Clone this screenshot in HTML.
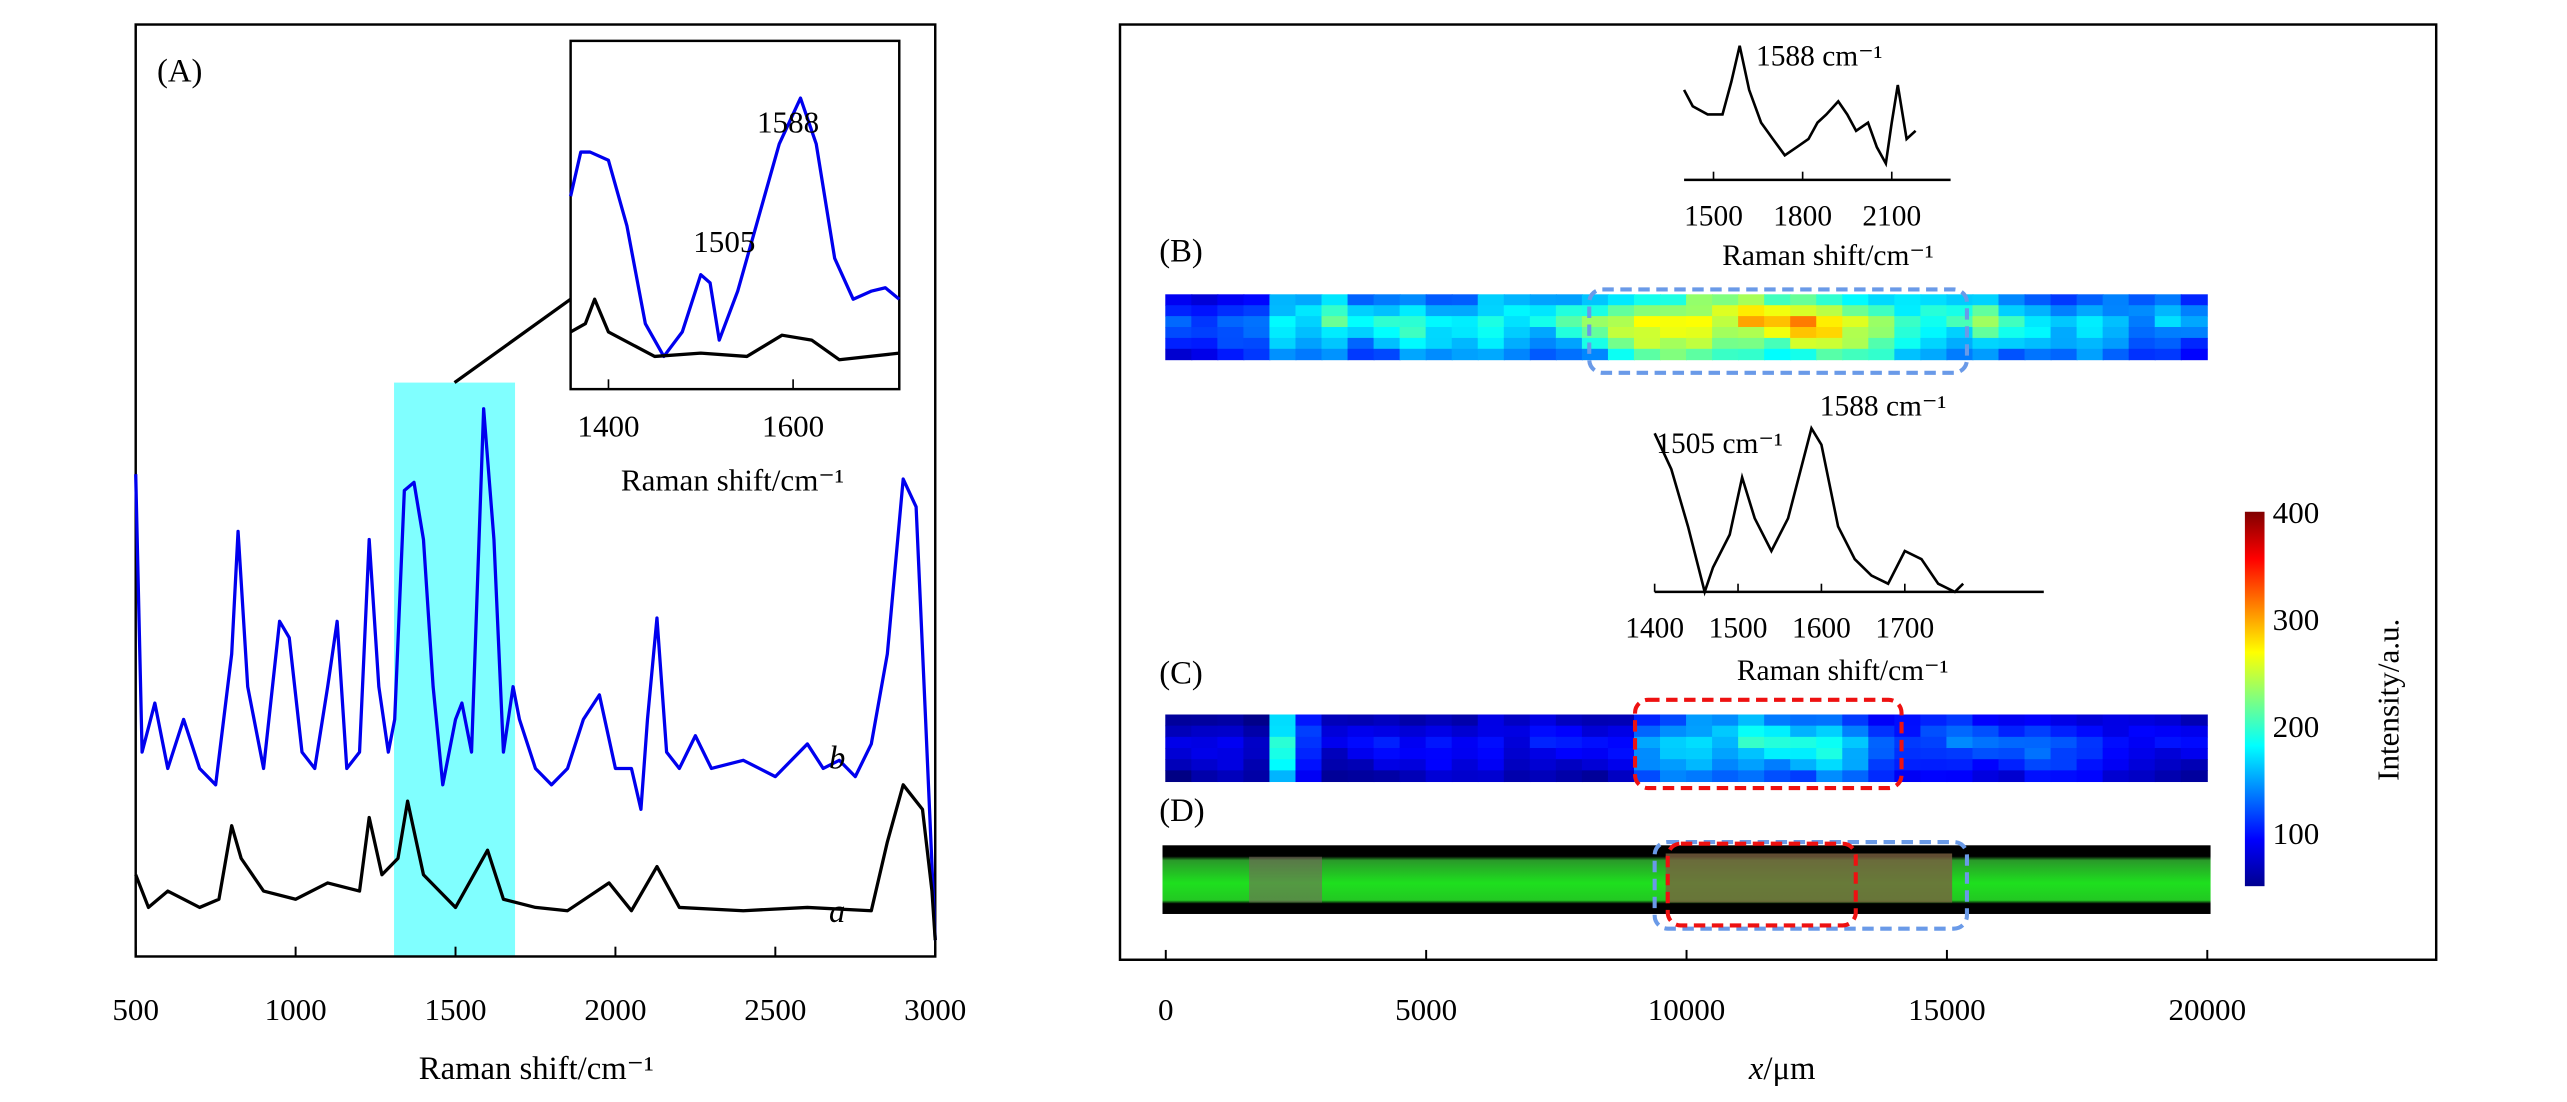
<!DOCTYPE html>
<html><head><meta charset="utf-8"><style>
html,body{margin:0;padding:0;background:#fff;}
svg{display:block;font-family:"Liberation Serif",serif;}
</style></head><body>
<svg id="fig" width="2567" height="1102" viewBox="0 0 1570 674" preserveAspectRatio="none" xmlns="http://www.w3.org/2000/svg">
<defs>
<linearGradient id="jet" x1="0" y1="1" x2="0" y2="0">
<stop offset="0" stop-color="#00008f"/><stop offset="0.125" stop-color="#0000ff"/><stop offset="0.375" stop-color="#00ffff"/><stop offset="0.625" stop-color="#ffff00"/><stop offset="0.875" stop-color="#ff0000"/><stop offset="1" stop-color="#800000"/>
</linearGradient>
<linearGradient id="dgreen" x1="0" y1="0" x2="0" y2="1">
<stop offset="0" stop-color="#000"/><stop offset="0.16" stop-color="#000"/><stop offset="0.22" stop-color="#2a9a2a"/><stop offset="0.55" stop-color="#1ee01e"/><stop offset="0.8" stop-color="#22c822"/><stop offset="0.85" stop-color="#000"/><stop offset="1" stop-color="#000"/>
</linearGradient>
</defs>
<g id="left"></g>
<g id="right"></g>
</svg>
<script>
// ---------- DATA ----------
const wnB = [500,520,560,600,650,700,750,800,820,850,900,950,980,1020,1060,1100,1130,1160,1200,1230,1260,1290,1310,1340,1370,1400,1430,1460,1500,1520,1550,1588,1620,1650,1680,1700,1750,1800,1850,1900,1950,2000,2050,2080,2100,2130,2160,2200,2250,2300,2400,2500,2600,2650,2700,2750,2800,2850,2900,2940,2970,3000];
const intB = [295,125,155,115,145,115,105,185,260,165,115,205,195,125,115,165,205,115,125,255,165,125,145,285,290,255,165,105,145,155,125,335,255,125,165,145,115,105,115,145,160,115,115,90,145,207,125,115,135,115,120,110,130,115,120,110,130,185,292,275,145,10];
const wnA = [500,540,600,700,760,800,830,900,1000,1100,1200,1230,1270,1320,1350,1400,1450,1500,1600,1650,1750,1850,1980,2050,2130,2200,2400,2600,2800,2850,2900,2960,2990,3000];
const intA = [50,30,40,30,35,80,60,40,35,45,40,85,50,60,95,50,40,30,65,35,30,28,45,28,55,30,28,30,28,70,105,90,40,10];
const wnIn = [1359,1370,1380,1400,1420,1440,1460,1480,1500,1510,1520,1540,1560,1585,1608,1625,1645,1665,1685,1700,1715];
const inBlue = [118,145,145,140,100,40,20,35,70,65,30,60,100,150,178,150,80,55,60,62,55];
const wnInK = [1359,1375,1385,1400,1450,1500,1550,1588,1620,1650,1715];
const inBlack = [35,40,55,35,20,22,20,33,30,18,22];
const wnBs = [1401,1430,1480,1530,1560,1588,1620,1660,1700,1740,1780,1820,1850,1880,1920,1950,1980,2020,2050,2080,2100,2120,2150,2180];
const intBs = [55,45,40,40,60,82,55,35,25,15,20,25,35,40,48,40,30,35,20,10,35,58,25,30];
const wnCs = [1400,1420,1440,1460,1470,1490,1505,1520,1540,1560,1588,1600,1620,1640,1660,1680,1700,1720,1740,1760,1770];
const intCs = [97,75,40,0,15,35,70,45,25,45,100,90,40,20,10,5,25,20,5,0,5];
const profB = [105,100,115,125,175,165,185,150,160,175,160,165,185,170,160,175,190,215,240,250,260,245,255,240,255,245,230,220,195,185,175,195,165,155,145,165,155,135,145,125];
const profC = [70,75,80,70,190,110,75,80,85,80,90,85,95,80,90,85,80,85,135,155,165,155,170,160,155,165,145,120,110,115,120,110,105,115,110,105,95,90,85,80];
const rowMod = [0.85,1.0,1.12,1.05,0.95,0.82];
const colJit = [1,0.9,1.1,0.95,1.05,1,0.92,1.08];
const ticksL = [500,1000,1500,2000,2500,3000];
const ticksR = [0,5000,10000,15000,20000];
const cbTicks = [100,200,300,400];
</script>
<script>
const NS="http://www.w3.org/2000/svg";
function mk(parent,tag,attrs,text){const e=document.createElementNS(NS,tag);for(const k in attrs)e.setAttribute(k,attrs[k]);if(text!==undefined)e.textContent=text;parent.appendChild(e);return e;}
const L=document.getElementById('left'), R=document.getElementById('right');
function poly(xs,ys,sx,sy){return xs.map((x,i)=>sx(x).toFixed(1)+','+sy(ys[i]).toFixed(1)).join(' ');}
function jet(v){let t=(v-50)/350;t=Math.max(0,Math.min(1,t));
 const r=Math.max(0,Math.min(1,1.5-Math.abs(4*t-3))),g=Math.max(0,Math.min(1,1.5-Math.abs(4*t-2))),b=Math.max(0,Math.min(1,1.5-Math.abs(4*t-1)));
 return `rgb(${Math.round(r*255)},${Math.round(g*255)},${Math.round(b*255)})`;}

// ---------- LEFT PANEL ----------
const xL=v=>83+(v-500)/2500*489, yL=v=>585-v;
let e;
e=mk(L,'rect',{x:241,y:234,width:74,height:351,fill:'#80ffff'});

e=mk(L,'rect',{x:83,y:15,width:489,height:570,fill:'none',stroke:'#000','stroke-width':1.5});

e=mk(L,'polyline',{points:poly(wnB,intB,xL,yL),fill:'none',stroke:'#0000ee','stroke-width':2,'stroke-linejoin':'round'});

e=mk(L,'polyline',{points:poly(wnA,intA,xL,yL),fill:'none',stroke:'#000','stroke-width':2,'stroke-linejoin':'round'});

ticksL.forEach(t=>{
 e=mk(L,'line',{x1:xL(t),x2:xL(t),y1:585,y2:579,stroke:'#000','stroke-width':1.2});
 
 e=mk(L,'text',{x:xL(t),y:624,'font-size':19,'text-anchor':'middle'},t);
 
});
e=mk(L,'text',{x:328,y:660,'font-size':20,'text-anchor':'middle'},'Raman shift/cm\u207B\u00B9');

e=mk(L,'text',{x:96,y:50,'font-size':20},'(A)');

e=mk(L,'text',{x:507,y:470,'font-size':20,'font-style':'italic'},'b');

e=mk(L,'text',{x:507,y:564,'font-size':20,'font-style':'italic'},'a');

e=mk(L,'line',{x1:278,y1:234,x2:349,y2:183,stroke:'#000','stroke-width':2});

// inset
const xI=v=>349+(v-1359)/356*201, yI=v=>238-v;
e=mk(L,'rect',{x:349,y:25,width:201,height:213,fill:'#fff',stroke:'#000','stroke-width':1.5});

e=mk(L,'polyline',{points:poly(wnIn,inBlue,xI,yI),fill:'none',stroke:'#0000ee','stroke-width':2,'stroke-linejoin':'round'});

e=mk(L,'polyline',{points:poly(wnInK,inBlack,xI,yI),fill:'none',stroke:'#000','stroke-width':2,'stroke-linejoin':'round'});

[1400,1600].forEach(t=>{
 e=mk(L,'line',{x1:xI(t),x2:xI(t),y1:238,y2:232,stroke:'#000'});
 
 e=mk(L,'text',{x:xI(t),y:267,'font-size':19,'text-anchor':'middle'},t);
 
});
e=mk(L,'text',{x:448,y:300,'font-size':19,'text-anchor':'middle'},'Raman shift/cm\u207B\u00B9');

e=mk(L,'text',{x:482,y:81,'font-size':19,'text-anchor':'middle'},'1588');

e=mk(L,'text',{x:443,y:154,'font-size':19,'text-anchor':'middle'},'1505');


// ---------- RIGHT PANEL ----------
const xR=v=>713+v/20000*637;
e=mk(R,'rect',{x:685,y:15,width:805,height:572,fill:'none',stroke:'#000','stroke-width':1.5});

ticksR.forEach(t=>{
 e=mk(R,'line',{x1:xR(t),x2:xR(t),y1:587,y2:581,stroke:'#000','stroke-width':1.2});
 
 e=mk(R,'text',{x:xR(t),y:624,'font-size':19,'text-anchor':'middle'},t);
 
});
e=mk(R,'text',{x:1090,y:660,'font-size':20,'text-anchor':'middle'});

mk(e,'tspan',{'font-style':'italic'},'x');mk(e,'tspan',{},'/\u03BCm');
[['(B)',160,'panel-label-b'],['(C)',418,'panel-label-c'],['(D)',502,'panel-label-d']].forEach(p=>{
 e=mk(R,'text',{x:709,y:p[1],'font-size':20},p[0]);
 
});
function heat(prof,y0,h,name){
 const g=mk(R,'g',{});
 
 const cw=637/prof.length, rh=h/rowMod.length;
 prof.forEach((p,c)=>rowMod.forEach((m,r)=>{
  const v=p*m*colJit[(c*3+r*5)%colJit.length];
  const cell=mk(g,'rect',{x:(713+c*cw-0.3).toFixed(2),y:(y0+r*rh).toFixed(2),width:(cw+0.6).toFixed(2),height:(rh+0.3).toFixed(2),fill:jet(v)});
  
  
 }));
}
heat(profB,180,40,'heatmap-b');
heat(profC,437,41,'heatmap-c');
// D optical image
e=mk(R,'rect',{x:711,y:517,width:641,height:42,fill:'url(#dgreen)'});

e=mk(R,'rect',{x:xR(1600),y:524,width:xR(3000)-xR(1600),height:28,fill:'#806060',opacity:0.55});

e=mk(R,'rect',{x:xR(9600),y:522,width:xR(15100)-xR(9600),height:30,fill:'#7a6040',opacity:0.8});

// dashed boxes
[[972,177,231,51,'#6a9ae8','dashed-box-b'],[1000,428,163,54,'#ee1111','dashed-box-c'],[1012,515,191,53,'#6a9ae8','dashed-box-d-blue'],[1020,516,115,50,'#ee1111','dashed-box-d-red']].forEach(b=>{
 e=mk(R,'rect',{x:b[0],y:b[1],width:b[2],height:b[3],rx:8,fill:'none',stroke:b[4],'stroke-width':2.5,'stroke-dasharray':'7 4'});
 
});
// B spectrum
const xBs=v=>1048+(v-1500)*0.1817, yBs=v=>110-v;
e=mk(R,'line',{x1:1030,x2:1193,y1:110,y2:110,stroke:'#000','stroke-width':1.5});

e=mk(R,'polyline',{points:poly(wnBs,intBs,xBs,yBs),fill:'none',stroke:'#000','stroke-width':1.6});

[1500,1800,2100].forEach(t=>{
 e=mk(R,'line',{x1:xBs(t),x2:xBs(t),y1:110,y2:105,stroke:'#000'});
 
 e=mk(R,'text',{x:xBs(t),y:138,'font-size':18,'text-anchor':'middle'},t);
 
});
e=mk(R,'text',{x:1118,y:162,'font-size':18,'text-anchor':'middle'},'Raman shift/cm\u207B\u00B9');

e=mk(R,'text',{x:1074,y:40,'font-size':18},'1588 cm\u207B\u00B9');

// C spectrum
const xCs=v=>1012+(v-1400)*0.51, yCs=v=>362-v;
e=mk(R,'line',{x1:1012,x2:1250,y1:362,y2:362,stroke:'#000','stroke-width':1.5});

e=mk(R,'polyline',{points:poly(wnCs,intCs,xCs,yCs),fill:'none',stroke:'#000','stroke-width':1.6});

[1400,1500,1600,1700].forEach(t=>{
 e=mk(R,'line',{x1:xCs(t),x2:xCs(t),y1:362,y2:357,stroke:'#000'});
 
 e=mk(R,'text',{x:xCs(t),y:390,'font-size':18,'text-anchor':'middle'},t);
 
});
e=mk(R,'text',{x:1127,y:416,'font-size':18,'text-anchor':'middle'},'Raman shift/cm\u207B\u00B9');

e=mk(R,'text',{x:1113,y:254,'font-size':18},'1588 cm\u207B\u00B9');

e=mk(R,'text',{x:1013,y:277,'font-size':18},'1505 cm\u207B\u00B9');

// colorbar
const yCb=v=>542-(v-50)/350*229;
e=mk(R,'rect',{x:1373,y:313,width:12,height:229,fill:'url(#jet)'});

cbTicks.forEach(t=>{
 e=mk(R,'text',{x:1390,y:yCb(t)+7,'font-size':19},t);
 
});
e=mk(R,'text',{x:0,y:0,'font-size':19,'text-anchor':'middle',transform:'translate(1467,428) rotate(-90)'},'Intensity/a.u.');

</script>
</body></html>
